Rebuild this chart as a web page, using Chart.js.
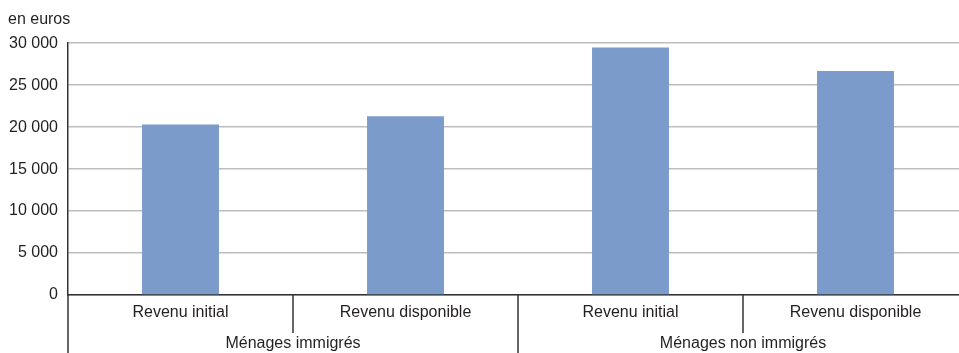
<!DOCTYPE html>
<html>
<head>
<meta charset="utf-8">
<script src="https://cdn.jsdelivr.net/npm/chart.js@4.4.1/dist/chart.umd.min.js"></script>
<style>
  html, body { margin: 0; padding: 0; background: #fff; overflow: hidden; }
  #wrap { width: 968px; height: 353px; position: relative; }
</style>
</head>
<body>
<div id="wrap"><canvas id="revenus"></canvas></div>
<script>
// valeurs (en euros)
const categories = ['Revenu initial', 'Revenu disponible', 'Revenu initial', 'Revenu disponible'];
const groups = ['Ménages immigrés', 'Ménages non immigrés'];
const values = [20300, 21300, 29500, 26700];
const yTicks = [0, 5000, 10000, 15000, 20000, 25000, 30000];

const FONT = "'Liberation Sans', Arial, sans-serif";
const TEXT = '#231f20';
const AXIS = '#333333';

function formatNumber(v) {
    return String(v).replace(/\B(?=(\d{3})+(?!\d))/g, ' ');
}

// séparateurs de l'axe des catégories (deux niveaux)
const separators = {
    id: 'separators',
    afterDraw(chart) {
        const x = chart.scales.x;
        const bottom = chart.chartArea.bottom;
        const ctx = chart.ctx;
        const n = categories.length;
        const perGroup = n / groups.length;
        ctx.save();
        ctx.strokeStyle = AXIS;
        ctx.lineWidth = 1.5;
        for (let i = 0; i <= n; i++) {
            let px;
            if (i === 0) px = x.left;
            else if (i === n) px = x.right;
            else px = (x.getPixelForValue(i - 1) + x.getPixelForValue(i)) / 2;
            const end = (i % perGroup === 0) ? chart.height : bottom + 38;
            ctx.beginPath();
            ctx.moveTo(px, bottom);
            ctx.lineTo(px, end);
            ctx.stroke();
        }
        ctx.restore();
    }
};

const ctx = document.getElementById('revenus').getContext('2d');
new Chart(ctx, {
    type: 'bar',
    data: {
        labels: categories,
        datasets: [{
            data: values,
            backgroundColor: '#7b9bcb',
            borderWidth: 0,
            categoryPercentage: 1,
            barPercentage: 0.342,
        }]
    },
    options: {
        responsive: true,
        maintainAspectRatio: false,
        animation: false,
        layout: { padding: { left: 8, right: 0, top: 0, bottom: 0 } },
        plugins: {
            legend: { display: false },
            tooltip: { enabled: false },
            title: {
                display: true,
                text: 'en euros',
                align: 'start',
                color: TEXT,
                font: { family: FONT, size: 16, weight: 'normal' },
                padding: { top: 10, bottom: 14 }
            }
        },
        scales: {
            x: {
                type: 'category',
                offset: true,
                grid: { display: false, drawTicks: false },
                border: { display: true, color: AXIS, width: 1.5 },
                afterFit(scale) { scale.height = 30; },
                ticks: {
                    color: TEXT,
                    padding: 8,
                    maxRotation: 0,
                    autoSkip: false,
                    font: { family: FONT, size: 16 }
                }
            },
            x2: {
                type: 'category',
                position: 'bottom',
                labels: groups,
                offset: true,
                grid: { display: false, drawTicks: false },
                border: { display: false },
                afterFit(scale) { scale.height = 28; },
                ticks: {
                    color: TEXT,
                    padding: 9,
                    maxRotation: 0,
                    autoSkip: false,
                    font: { family: FONT, size: 16 }
                }
            },
            y: {
                min: 0,
                max: 30000,
                afterBuildTicks(scale) {
                    scale.ticks = yTicks.map(v => ({ value: v }));
                },
                afterFit(scale) { scale.width = 60; },
                grid: {
                    color: '#bdbdbd',
                    lineWidth: 1.5,
                    drawTicks: false
                },
                border: { display: true, color: AXIS, width: 1.5 },
                ticks: {
                    color: TEXT,
                    padding: 10,
                    font: { family: FONT, size: 16 },
                    callback: v => formatNumber(v)
                }
            }
        }
    },
    plugins: [separators]
});
</script>
</body>
</html>
